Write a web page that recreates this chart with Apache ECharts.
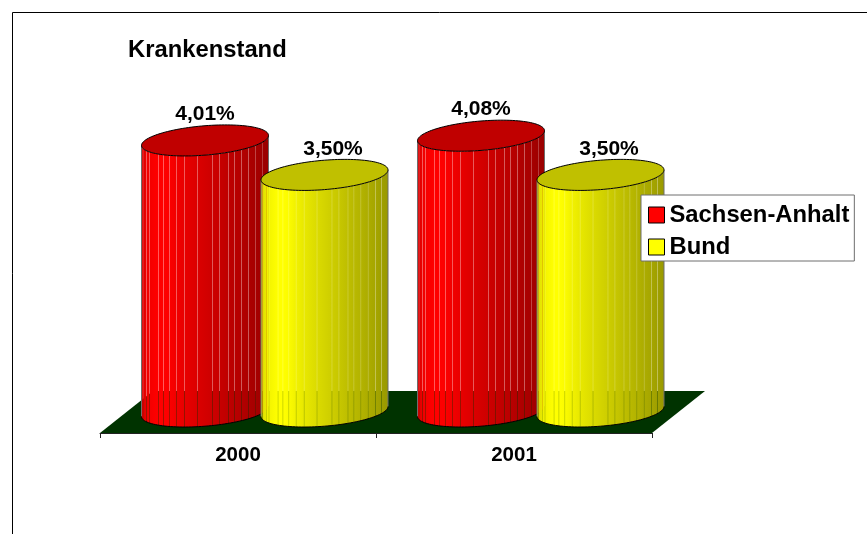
<!DOCTYPE html>
<html><head><meta charset="utf-8">
<style>html,body{margin:0;padding:0;background:#fff}#c{width:867px;height:534px}</style>
<script src="https://cdn.jsdelivr.net/npm/echarts@6/dist/echarts.min.js"></script>
</head><body><div id="c"></div>
<script>
const years = ['2000', '2001'];
const sachsenAnhalt = [4.01, 4.08];
const bund = [3.50, 3.50];
const valueLabels = v => v.toFixed(2).replace('.', ',') + '%';

const FONT = '"Liberation Sans", Arial, sans-serif';
// layout of the pseudo-3D drawing
const DEPTH_X = 53, DEPTH_Y = 42, RX = 63.5, RY = 14.7, SHEAR = 5;
// facet edges (fraction of the cylinder width) and light falloff
const facets = [0,.012,.04,.063,.134,.173,.22,.276,.339,.441,.559,.614,.685,.732,.787,.843,.9,.95,1];
const light = [[0,.82],[.03,.92],[.1,1],[.2,1],[.3,.93],[.5,.83],[.7,.74],[.9,.65],[1,.6]];
const shade = f => {
  for (let i = 1; i < light.length; i++) {
    if (f <= light[i][0]) {
      const a = light[i-1], b = light[i];
      return a[1] + (b[1]-a[1]) * (f-a[0]) / (b[0]-a[0]);
    }
  }
  return .6;
};

function cylinder(params, api, o) {
  const i = api.value(0), v = api.value(1);
  const top = api.coord([i, v]), base = api.coord([i, 0]);
  const cx = top[0] + DEPTH_X / 2 + o.dx;
  const ptAt = (t, y) => [cx + RX * Math.cos(t), y + RY * Math.sin(t) - SHEAR * Math.cos(t)];
  const col = k => { const c = Math.round(255 * k);
    return o.yellow ? `rgb(${c},${c},0)` : `rgb(${c},0,0)`; };
  const children = [];
  const GAP = 0.1;
  for (let k = 0; k < facets.length - 1; k++) {
    const f0 = facets[k], f1 = facets[k+1];
    const t0 = Math.acos(1 - 2 * f0), t1 = Math.acos(1 - 2 * f1);
    const pts = [];
    const a0 = Math.PI - t0, a1 = Math.PI - t1;
    const n = 6;
    for (let s = 0; s <= n; s++) { const a = a0 + (a1-a0)*s/n; pts.push(ptAt(a, top[1])); }
    for (let s = n; s >= 0; s--) { const a = a0 + (a1-a0)*s/n; pts.push(ptAt(a, base[1])); }
    const shrink = (p, idx) => {
      const isLeft = idx === 0 || idx === pts.length - 1;
      const isRight = idx === n || idx === n + 1;
      return [p[0] + (isLeft && k > 0 ? GAP : 0) - (isRight && k < facets.length - 2 ? GAP : 0), p[1]];
    };
    children.push({ type: 'polygon', shape: { points: pts.map(shrink) },
      style: { fill: new echarts.graphic.LinearGradient(0, 0, 1, 0, [
        { offset: 0, color: col(shade(f0)) }, { offset: 1, color: col(shade(f1)) }]) } });
  }
  const L0 = ptAt(Math.PI, top[1]), L1 = ptAt(Math.PI, base[1]);
  const R0 = ptAt(0, top[1]), R1 = ptAt(0, base[1]);
  children.push({ type: 'line', shape: { x1: L0[0], y1: L0[1], x2: L1[0], y2: L1[1] }, style: { stroke: '#6e6e6e', lineWidth: 1 } });
  children.push({ type: 'line', shape: { x1: R0[0], y1: R0[1], x2: R1[0], y2: R1[1] }, style: { stroke: '#6e6e6e', lineWidth: 1 } });
  const front = [];
  for (let s = 0; s <= 60; s++) front.push(ptAt(Math.PI * s / 60, base[1]));
  children.push({ type: 'polyline', shape: { points: front }, style: { stroke: '#000', lineWidth: 1, fill: null } });
  const ell = [];
  for (let s = 0; s < 120; s++) ell.push(ptAt(2 * Math.PI * s / 120, top[1]));
  children.push({ type: 'polygon', shape: { points: ell },
    style: { fill: o.yellow ? '#c0c000' : '#c00000', stroke: '#000', lineWidth: 1 } });
  children.push({ type: 'text', x: cx + o.labelDx, y: top[1] + o.labelDy,
    style: { text: valueLabels(v), font: 'bold 21px ' + FONT, fill: '#000', align: 'center', verticalAlign: 'middle' } });
  return { type: 'group', children };
}

function floor(params) {
  const c = params.coordSys, by = c.y + c.height;
  return { type: 'polygon', silent: true, shape: { points: [
    [c.x, by], [c.x + DEPTH_X, by - DEPTH_Y],
    [c.x + c.width + DEPTH_X, by - DEPTH_Y], [c.x + c.width, by]] },
    style: { fill: '#003300' } };
}

const chart = echarts.init(document.getElementById('c'), null, { renderer: 'canvas' });
chart.setOption({
  animation: false,
  backgroundColor: '#fff',
  graphic: [{ type: 'polyline', z: 10, shape: { points: [[12.5, 534], [12.5, 12.5], [867, 12.5]] },
    style: { stroke: '#000', lineWidth: 1, fill: null } }],
  title: { text: 'Krankenstand', left: 128, top: 38, padding: 0,
    textStyle: { fontFamily: FONT, fontSize: 23.8, fontWeight: 'bold', color: '#000' } },
  legend: {
    data: ['Sachsen-Anhalt', 'Bund'], orient: 'vertical', left: 641, top: 195,
    padding: [8, 5, 2, 7], itemGap: 8, itemWidth: 16, itemHeight: 16, icon: 'rect',
    backgroundColor: '#fff', borderColor: '#6e6e6e', borderWidth: 1,
    itemStyle: { borderColor: '#000', borderWidth: 1 },
    textStyle: { fontFamily: FONT, fontSize: 23.8, fontWeight: 'bold', color: '#000', lineHeight: 24 }
  },
  grid: { left: 100, width: 552, top: 73.5, height: 359.5 },
  xAxis: { type: 'category', data: years, z: 5,
    axisLine: { onZero: false, lineStyle: { color: '#222', width: 1 } },
    axisTick: { show: true, length: 5, lineStyle: { color: '#222' } },
    axisLabel: { margin: 12, fontFamily: FONT, fontSize: 20.5, fontWeight: 'bold', color: '#000' } },
  yAxis: { type: 'value', min: -0.318, max: 5, show: false, splitLine: { show: false } },
  series: [
    { type: 'custom', name: 'floor', silent: true, clip: false, data: [[0, 0]], renderItem: floor, z: 1 },
    { type: 'custom', name: 'Sachsen-Anhalt', clip: false, z: 2, itemStyle: { color: '#ff0000' },
      encode: { x: 0, y: 1 }, data: sachsenAnhalt.map((v, i) => [i, v]),
      renderItem: (p, a) => cylinder(p, a, { dx: -59.5, yellow: false, labelDx: 0, labelDy: -26.5 }) },
    { type: 'custom', name: 'Bund', clip: false, z: 3, itemStyle: { color: '#ffff00' },
      encode: { x: 0, y: 1 }, data: bund.map((v, i) => [i, v]),
      renderItem: (p, a) => cylinder(p, a, { dx: 60, yellow: true, labelDx: 8.5, labelDy: -25.5 }) }
  ]
});
</script></body></html>
